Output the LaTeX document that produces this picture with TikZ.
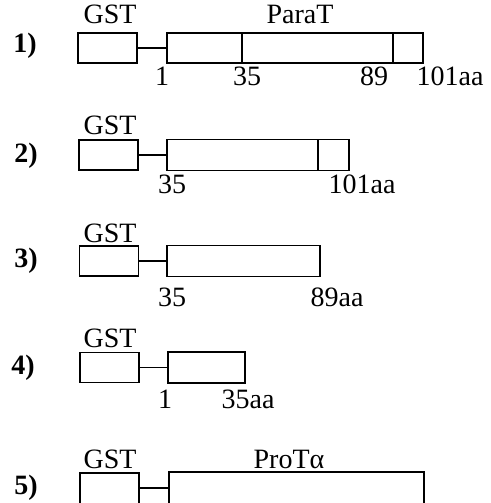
\documentclass[tikz,border=0pt]{standalone}
\usepackage{fontspec}
\setmainfont{Liberation Serif}
\begin{document}
\begin{tikzpicture}[x=1pt,y=-1pt,
  lw/.style={line width=1.8pt},
  gstbox/.style={draw,lw,rectangle,minimum width=59pt,minimum height=30pt,inner sep=0pt,outer sep=0pt,fill=white},
  protbox/.style={draw,lw,rectangle,inner sep=0pt,outer sep=0pt,fill=white},
  txt/.style={font=\fontsize{28}{30}\selectfont,inner sep=0pt,anchor=base},
  rowlbl/.style={font=\fontsize{28}{30}\selectfont\bfseries,inner sep=0pt},
  link/.style={lw}]
\useasboundingbox (0,0) rectangle (490,503);
\clip (0,0) rectangle (490,503);
% Row 1
\node[rowlbl] (r1) at (25,46) {1)};
\node[gstbox] (g1) at (107.5,48) {};
\node[protbox,minimum width=256pt,minimum height=30pt] (p1) at (295,48) {};
\draw[link] (g1.east) -- (p1.west);
\draw[lw] (242,0 |- p1.north) -- (242,0 |- p1.south);
\draw[lw] (393,0 |- p1.north) -- (393,0 |- p1.south);
\node[txt] (gt1) at (110,24) {GST};
\node[txt] (pt1) at (300,24) {ParaT};
\node[txt] (n11) at (162,85) {1};
\node[txt] (n12) at (247,85) {35};
\node[txt] (n13) at (374,85) {89};
\node[txt] (n14) at (450,85) {101aa};
% Row 2
\node[rowlbl] (r2) at (26,156) {2)};
\node[gstbox] (g2) at (108.5,155) {};
\node[protbox,minimum width=182pt,minimum height=31pt] (p2) at (258,155) {};
\draw[link] (g2.east) -- (p2.west);
\draw[lw] (318,0 |- p2.north) -- (318,0 |- p2.south);
\node[txt] (gt2) at (110,134) {GST};
\node[txt] (n21) at (172,193) {35};
\node[txt] (n22) at (362,193) {101aa};
% Row 3
\node[rowlbl] (r3) at (26,261) {3)};
\node[gstbox] (g3) at (109,261) {};
\node[protbox,minimum width=153pt,minimum height=31pt] (p3) at (243.5,261) {};
\draw[link] (g3.east) -- (p3.west);
\node[txt] (gt3) at (110,242) {GST};
\node[txt] (n31) at (172,306) {35};
\node[txt] (n32) at (337,306) {89aa};
% Row 4
\node[rowlbl] (r4) at (23,368) {4)};
\node[gstbox] (g4) at (109.5,367.5) {};
\node[protbox,minimum width=77pt,minimum height=31pt] (p4) at (206.5,367.5) {};
\draw[link] (g4.east) -- (p4.west);
\node[txt] (gt4) at (110,347) {GST};
\node[txt] (n41) at (165,408) {1};
\node[txt] (n42) at (248,408) {35aa};
% Row 5
\node[rowlbl] (r5) at (26,488) {5)};
\node[gstbox,minimum height=60pt] (g5) at (109.5,503) {};
\node[protbox,minimum width=255pt,minimum height=60pt] (p5) at (296.5,502) {};
\draw[link] (g5.north east |- 0,488) -- (p5.west |- 0,488);
\node[txt] (gt5) at (110,468) {GST};
\node[txt] (pt5) at (289,468) {ProTα};
\end{tikzpicture}
\end{document}
